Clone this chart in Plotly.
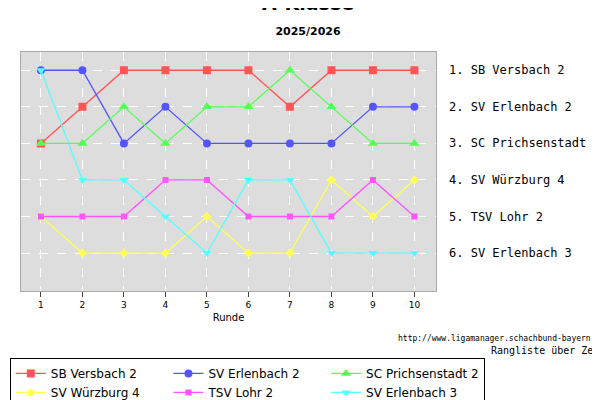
import plotly.graph_objects as go

rounds = list(range(1, 11))
teams = ["SB Versbach 2", "SV Erlenbach 2", "SC Prichsenstadt 2", "SV Würzburg 4", "TSV Lohr 2", "SV Erlenbach 3"]
ranks = [
    [3, 2, 1, 1, 1, 1, 2, 1, 1, 1],
    [1, 1, 3, 2, 3, 3, 3, 3, 2, 2],
    [3, 3, 2, 3, 2, 2, 1, 2, 3, 3],
    [5, 6, 6, 6, 5, 6, 6, 4, 5, 4],
    [5, 5, 5, 4, 4, 5, 5, 5, 4, 5],
    [1, 4, 4, 5, 6, 4, 4, 6, 6, 6],
]
final_order = ["SB Versbach 2", "SV Erlenbach 2", "SC Prichsenstadt 2", "SV Würzburg 4", "TSV Lohr 2", "SV Erlenbach 3"]
colors = ["#ff5555", "#5555ff", "#55ff55", "#ffff55", "#ff55ff", "#55ffff"]
symbols = ["square", "circle", "triangle-up", "diamond", "square", "triangle-down"]
sizes = [8, 8, 9, 7, 6, 8]

fig = go.Figure()
for name, r, c, s, sz in zip(teams, ranks, colors, symbols, sizes):
    fig.add_trace(go.Scatter(x=rounds, y=r, name=name, mode="lines+markers",
                             line=dict(color=c, width=1.3),
                             marker=dict(color=c, symbol=s, size=sz)))

for i, name in enumerate(final_order):
    fig.add_annotation(x=0.715, xref="paper", y=i + 1, yref="y", xanchor="left",
                       xshift=10, text=f"{i + 1}. {name}", showarrow=False,
                       font=dict(family="DejaVu Sans Mono", size=12, color="black"))

fig.add_annotation(x=0.998, xref="paper", y=1 - 338 / 400, yref="paper", xanchor="right",
                   yanchor="middle", text="http://www.ligamanager.schachbund-bayern.de",
                   showarrow=False, font=dict(family="DejaVu Sans Mono", size=8, color="black"))
fig.add_annotation(x=0.998, xref="paper", y=1 - 350 / 400, yref="paper", xanchor="right",
                   yanchor="middle", text="Rangliste über Zeit", showarrow=False,
                   font=dict(family="DejaVu Sans Mono", size=10, color="black"))

fig.update_layout(
    width=600, height=400,
    margin=dict(l=0, r=0, t=0, b=0),
    paper_bgcolor="white", plot_bgcolor="#dddddd",
    font=dict(family="DejaVu Sans", size=10, color="black"),
    title=dict(text="<b>A-Klasse</b><br><span style='font-size:11px'><b>2025/2026</b></span>",
               x=0.5, xanchor="center", y=0.995, yanchor="top",
               font=dict(size=19, family="DejaVu Sans")),
    showlegend=True,
    legend=dict(orientation="h", x=0.003, xanchor="left", y=1 - 358 / 400, yanchor="top",
                bordercolor="black", borderwidth=1, font=dict(size=12),
                itemwidth=30, tracegroupgap=0),
    xaxis=dict(domain=[13 / 600, 428 / 600], range=[0.52, 10.52], tickvals=rounds,
               showgrid=True, gridcolor="white", griddash="dash", gridwidth=1,
               showline=True, linecolor="#aaaaaa", mirror=True, ticks="outside",
               tickfont=dict(size=9), title=dict(text="Runde", font=dict(size=10), standoff=4),
               zeroline=False),
    yaxis=dict(domain=[1 - 290 / 400, 1 - 45 / 400], range=[7.05, 0.5],
               tickvals=[1, 2, 3, 4, 5, 6], showticklabels=False,
               showgrid=True, gridcolor="white", griddash="dash", gridwidth=1,
               showline=True, linecolor="#aaaaaa", mirror=True, zeroline=False),
)

fig.write_html("out.html")
